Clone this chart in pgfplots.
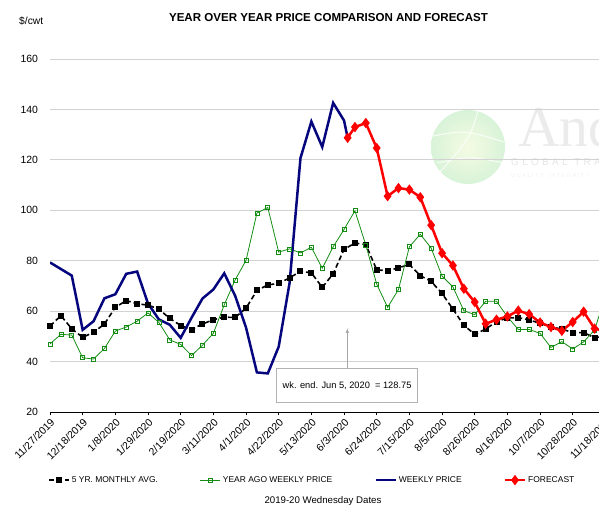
\documentclass[border=0pt]{standalone}
\usepackage{fontspec}
\setmainfont{Liberation Sans}
\newfontfamily\wmserif{Liberation Serif}
\usepackage{pgfplots}
\pgfplotsset{compat=1.18}
\definecolor{avgcol}{RGB}{0,0,0}
\definecolor{agocol}{RGB}{20,140,20}
\definecolor{wkcol}{RGB}{5,5,125}
\definecolor{fccol}{RGB}{255,0,0}
\definecolor{globein}{RGB}{240,250,215}
\definecolor{globeout}{RGB}{200,238,200}

\begin{document}
\begin{tikzpicture}
\useasboundingbox (0,0) rectangle (599bp,508bp);
\clip (0,0) rectangle (599bp,508bp);
% faint watermark behind the grid
\shade[inner color=globein, outer color=globeout, opacity=0.7] (468bp,361bp) circle (37bp);
\draw[white, line width=1bp, opacity=0.8] (440bp,336bp) .. controls (470bp,370bp) .. (478bp,397bp);
\draw[white, line width=1bp, opacity=0.8] (433bp,372bp) .. controls (465bp,378bp) .. (504bp,366bp);
\draw[white, line width=1bp, opacity=0.8] (437bp,345bp) .. controls (470bp,352bp) .. (503bp,345bp);
\node[anchor=base west, inner sep=0, text=gray!16, font=\wmserif\fontsize{58}{58}\selectfont] at (518bp,361bp) {Andes};
\node[anchor=base west, inner sep=0, text=gray!20, font=\fontsize{10}{10}\selectfont] at (511bp,342bp) {G\,\,L\,\,O\,\,B\,\,A\,\,L\,\,\,\,T\,\,R\,\,A\,\,D\,\,E};
\node[anchor=base west, inner sep=0, text=gray!12, font=\fontsize{5.5}{6}\selectfont] at (511bp,330bp) {Q U A L I T Y \ \ I N T E G R I T Y};

% the axis runs on past the right edge of the picture, which crops it as the reference does
\begin{axis}[at={(50bp,96bp)}, anchor=south west, scale only axis, width=566.3bp, height=353bp,
  xmin=0, xmax=52, ymin=20, ymax=160,
  axis lines*=left, axis line style={-}, y axis line style={draw=none},
  x axis line style={black, line width=0.8bp},
  xtick={0,3,6,9,12,15,18,21,24,27,30,33,36,39,42,45,48,51},
  xticklabels={11/27/2019,12/18/2019,1/8/2020,1/29/2020,2/19/2020,3/11/2020,4/1/2020,4/22/2020,5/13/2020,6/3/2020,6/24/2020,7/15/2020,8/5/2020,8/26/2020,9/16/2020,10/7/2020,10/28/2020,11/18/2020},
  ytick={20,40,...,160},
  ymajorgrids, grid style={gray!35, line width=0.9bp},
  tick align=outside, major tick length=3.5bp,
  ytick style={draw=none}, xtick style={black, line width=0.6bp},
  tick label style={font=\fontsize{10.5}{12}\selectfont},
  /pgf/number format/assume math mode=true,
  xticklabel style={rotate=45, anchor=north east, inner sep=1.5bp},
  yticklabel style={xshift=-5bp},
  legend columns=4, legend cell align=left,
  legend style={draw=none, fill=none, at={(-0.0035,-0.193)}, anchor=west, inner sep=0pt,
    font=\fontsize{8.5}{10}\selectfont, /tikz/every even column/.append style={column sep=40bp}},
  legend image code/.code={\draw[mark repeat=2,mark phase=2,#1] plot coordinates {(0bp,0bp) (10bp,0bp) (20bp,0bp)};},
]
\addplot[avgcol, line width=1.6bp, dash pattern=on 5bp off 3bp, mark=square*, mark size=2.2bp, mark options={solid}] coordinates {
  (0,54.1) (1,58.2) (2,53.0) (3,49.6) (4,51.6) (5,54.9) (6,61.5) (7,64.2) (8,62.9) (9,62.4)
  (10,60.8) (11,57.1) (12,54.3) (13,52.7) (14,54.9) (15,56.6) (16,57.6) (17,57.5) (18,61.2) (19,68.2)
  (20,70.4) (21,71.0) (22,73.2) (23,75.8) (24,75.2) (25,69.4) (26,74.8) (27,84.5) (28,87.0) (29,86.4)
  (30,76.4) (31,76.0) (32,77.2) (33,78.5) (34,74.1) (35,71.8) (36,67.0) (37,60.8) (38,54.4) (39,50.8)
  (40,52.9) (41,55.8) (42,57.3) (43,57.4) (44,56.5) (45,55.2) (46,53.7) (47,52.9) (48,51.5) (49,51.5)
  (50,49.5) (51,50.0)
};
\addlegendentry{5 YR. MONTHLY AVG.}
\addplot[agocol, line width=0.8bp, mark=square, mark size=2bp, mark options={solid, fill=white, line width=0.7bp}] coordinates {
  (0,47.0) (1,50.8) (2,50.5) (3,41.5) (4,41.0) (5,45.2) (6,52.1) (7,53.7) (8,56.0) (9,59.3)
  (10,55.5) (11,48.6) (12,46.8) (13,42.4) (14,46.5) (15,51.2) (16,62.5) (17,72.4) (18,80.1) (19,98.9)
  (20,101.1) (21,83.4) (22,84.7) (23,83.1) (24,85.3) (25,77.0) (26,85.5) (27,92.4) (28,99.8) (29,86.2)
  (30,70.7) (31,61.5) (32,68.6) (33,85.5) (34,90.5) (35,85.0) (36,73.9) (37,69.6) (38,60.2) (39,58.6)
  (40,63.9) (41,63.9) (42,57.8) (43,52.7) (44,52.7) (45,51.2) (46,45.6) (47,47.9) (48,45.0) (49,47.8)
  (50,52.5) (51,66.0)
};
\addlegendentry{YEAR AGO WEEKLY PRICE}
\addplot[wkcol, line width=2.5bp, no marks] coordinates {
  (0,79.3) (1,76.7) (2,74.1) (3,52.6) (4,56.0) (5,65.1) (6,66.7) (7,74.8) (8,75.7) (9,63.0)
  (10,56.7) (11,54.6) (12,49.4) (13,57.4) (14,65.0) (15,68.6) (16,75.0) (17,66.1) (18,53.5) (19,35.7)
  (20,35.3) (21,45.9) (22,71.2) (23,120.7) (24,135.2) (25,125.1) (26,142.6) (27,135.6) (27.33,128.75)
};
\addlegendentry{WEEKLY PRICE}
\addplot[fccol, line width=2.5bp, mark=diamond*, mark size=3.2bp] coordinates {
  (27.33,128.75) (28,133.0) (29,134.6) (30,124.7) (31,105.6) (32,108.8) (33,108.2) (34,105.2) (35,94.1)
  (36,83.0) (37,78.1) (38,68.9) (39,63.6) (40,55.0) (41,56.6) (42,57.9) (43,60.2) (44,58.8) (45,55.5)
  (46,53.7) (47,52.2) (48,55.7) (49,59.8) (50,53.1) (51,52.0)
};
\addlegendentry{FORECAST}
% annotation for the first forecast week
\draw[gray!70, line width=0.6bp, -latex] (axis cs:27.3,37.3) -- (axis cs:27.3,53.2);
\draw[gray!60, fill=white, line width=0.7bp] (axis cs:20.82,23.7) rectangle (axis cs:33.73,37.3);
\node[font=\fontsize{9.3}{11}\selectfont] at (axis cs:27.28,30.5) {wk. end. Jun 5, 2020 \ = 128.75};
\end{axis}

\node[font=\bfseries\fontsize{11.6}{13}\selectfont] at (328.5bp,490bp) {YEAR OVER YEAR PRICE COMPARISON AND FORECAST};
\node[anchor=west, inner sep=0, font=\fontsize{10.3}{12}\selectfont] at (19bp,487bp) {\$/cwt};
\node[font=\fontsize{9.7}{11}\selectfont] at (323bp,7bp) {2019-20 Wednesday Dates};
\end{tikzpicture}
\end{document}
